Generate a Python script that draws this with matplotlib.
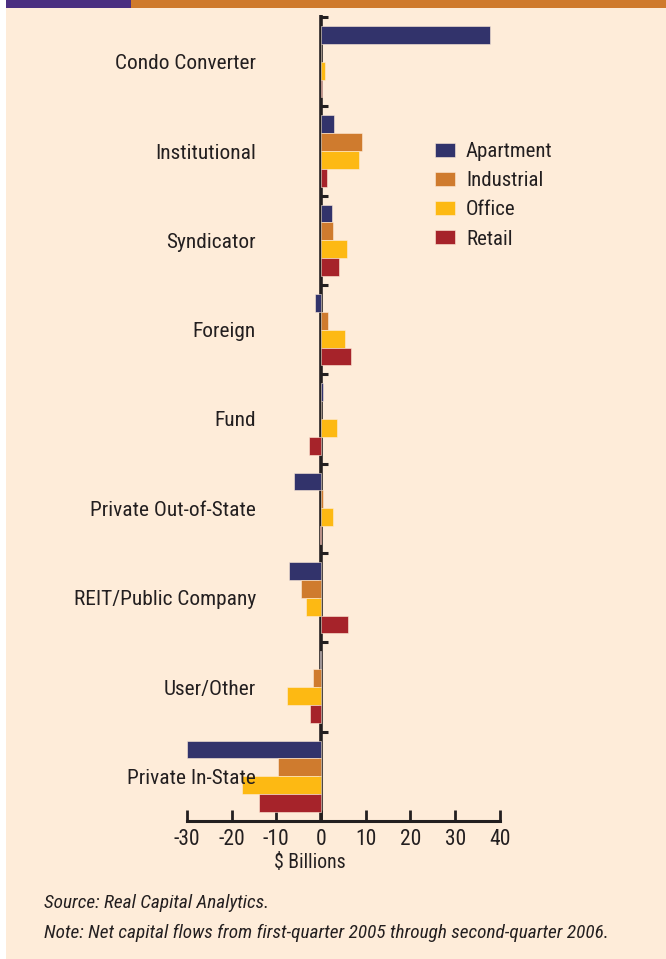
import matplotlib
matplotlib.use("Agg")
import matplotlib.pyplot as plt
from matplotlib.patches import Rectangle
import matplotlib.transforms as mtransforms
import numpy as np

plt.rcParams['font.family'] = ['Roboto Condensed', 'DejaVu Sans']

categories = ["Condo Converter", "Institutional", "Syndicator", "Foreign", "Fund",
              "Private Out-of-State", "REIT/Public Company", "User/Other", "Private In-State"]
apartment = [37.8, 2.9, 2.5, -1.3, 0.4, -6.0, -7.2, -0.2, -30.0]
industrial = [0.0, 9.2, 2.7, 1.6, 0.1, 0.4, -4.5, -1.8, -9.6]
office = [1.0, 8.5, 5.8, 5.4, 3.6, 2.7, -3.3, -7.6, -17.6]
retail = [0.3, 1.4, 4.0, 6.7, -2.7, -0.3, 6.0, -2.5, -13.8]
series_names = ["Apartment", "Industrial", "Office", "Retail"]
xticks = [-30, -20, -10, 0, 10, 20, 30, 40]
xlabel = "$ Billions"
source = "Source: Real Capital Analytics."
note = "Note: Net capital flows from first-quarter 2005 through second-quarter 2006."

colors = ["#32336B", "#CF7B2E", "#FDB913", "#A6232A"]
bg = "#FEECD9"
dark = "#231F20"

W, H = 666, 959
fig = plt.figure(figsize=(W / 100, H / 100), dpi=100, facecolor="white")

# background panels
fig.patches.append(Rectangle((6 / W, 0), 1 - 6 / W, 1 - 8 / H, transform=fig.transFigure,
                             facecolor=bg, edgecolor="none", zorder=-5))
fig.patches.append(Rectangle((6 / W, 1 - 8 / H), (131 - 6) / W, 8 / H, transform=fig.transFigure,
                             facecolor="#4B2E80", edgecolor="none", zorder=-5))
fig.patches.append(Rectangle((131 / W, 1 - 8 / H), 1 - 131 / W, 8 / H, transform=fig.transFigure,
                             facecolor="#CF7A2C", edgecolor="none", zorder=-5))

left, right = 186.75 / W, 500 / W
top, bottom = 1 - 17 / H, 1 - 821 / H
ax = fig.add_axes([left, bottom, right - left, top - bottom])
ax.set_zorder(2)
ax.set_facecolor("none")

n = len(categories)
y = np.arange(n)
bh = 0.2
all_series = [apartment, industrial, office, retail]
for k, (vals, c, name) in enumerate(zip(all_series, colors, series_names)):
    ax.barh(y + (k - 1.5) * bh, vals, height=bh, color=c, edgecolor=bg, linewidth=0.4,
            label=name, zorder=3)

ax.set_xlim(-30, 40)
ax.set_ylim(n - 0.5, -0.5)

# zero line and group ticks
ax.plot([0, 0], [n - 0.5, -0.52], color=dark, lw=2.6, zorder=2, clip_on=False,
        solid_capstyle="butt")
bounds = np.arange(n) - 0.5
ax.hlines(bounds, 0, 1.6, color=dark, lw=2.2, zorder=2, clip_on=False)

for s in ["top", "right", "left"]:
    ax.spines[s].set_visible(False)
ax.spines["bottom"].set_color(dark)
ax.spines["bottom"].set_linewidth(2.2)
ax.set_yticks([])
ax.set_xticks(xticks)
ax.set_xticklabels([str(t) for t in xticks])
ax.tick_params(axis="x", direction="in", length=8, width=2, color=dark,
               labelsize=15.5, labelcolor=dark, pad=6)

# category labels
trans = mtransforms.blended_transform_factory(ax.transAxes, ax.transData)
trans = trans + mtransforms.ScaledTranslation(0, -2 / 100, fig.dpi_scale_trans)
for i, cat in enumerate(categories):
    ax.text((256 - 186.75) / (500 - 186.75), i, cat, transform=trans, ha="right",
            va="center", fontsize=15.4, color=dark)

fig.text(310 / W, 1 - 862 / H, xlabel, ha="center", va="center", fontsize=14.2, color=dark)

leg = ax.legend(loc="upper left", bbox_to_anchor=(435 / W, 1 - 142 / H),
                bbox_transform=fig.transFigure, frameon=False, fontsize=15,
                handlelength=0.96, handleheight=0.68, handletextpad=0.53, labelspacing=0.49,
                borderpad=0, borderaxespad=0)
for t in leg.get_texts():
    t.set_color(dark)

fig.text(44 / W, 1 - 903 / H, source, ha="left", va="center", fontsize=13.9,
         style="italic", color=dark)
fig.text(44 / W, 1 - 933 / H, note, ha="left", va="center", fontsize=13.9,
         style="italic", color=dark)

fig.savefig("out.png", dpi=100, facecolor="white")
